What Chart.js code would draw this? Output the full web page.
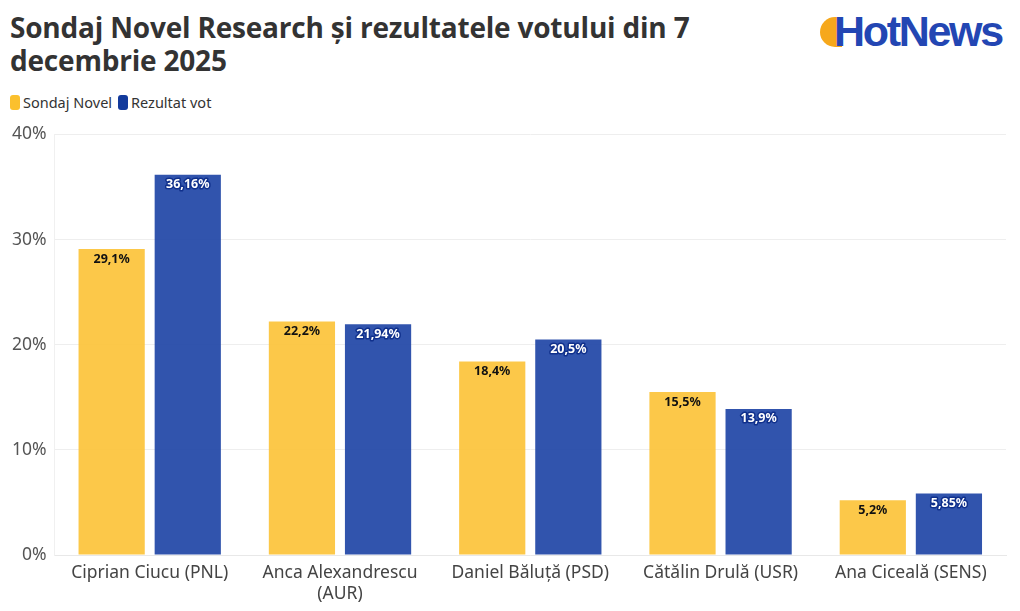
<!DOCTYPE html>
<html><head><meta charset="utf-8">
<script src="https://cdn.jsdelivr.net/npm/chart.js@4.4.1/dist/chart.umd.min.js"></script>
<style>
html,body{margin:0;padding:0;background:#fff;width:1020px;height:611px;overflow:hidden;font-family:"Noto Sans",sans-serif;}
#title{position:absolute;left:10px;top:11px;width:760px;font-family:"Open Sans",sans-serif;font-weight:700;font-size:28px;line-height:33px;color:#333;letter-spacing:-0.2px;}
#legend{position:absolute;left:10px;top:92px;font-size:14.5px;color:#333;display:flex;align-items:center;}
#legend span.sw{display:inline-block;width:10px;height:15px;border-radius:3px;margin-right:3px;}
#legend span.t{margin-right:6px;}
#logo{position:absolute;left:820px;top:6px;height:48px;}
#logo .sun{position:absolute;left:0;top:11px;width:22px;height:30px;border-radius:15px 0 0 15px;background:#f6a81c;}
#logo .txt{position:absolute;left:14px;top:0px;font-family:"Liberation Sans",Arial,sans-serif;font-weight:700;font-size:43px;color:#2346b3;letter-spacing:-2.3px;line-height:50px;}
#wrap{position:absolute;left:0;top:116px;width:1020px;height:495px;}
</style></head>
<body>
<div id="title">Sondaj Novel Research și rezultatele votului din 7 decembrie 2025</div>
<div id="legend"><span class="sw" style="background:#fbc02d"></span><span class="t">Sondaj Novel</span><span class="sw" style="background:#123a9c"></span><span class="t">Rezultat vot</span></div>
<div id="logo"><div class="sun"></div><div class="txt">HotNews</div></div>
<div id="wrap"><canvas id="c"></canvas></div>
<script>
const categories = [["Ciprian Ciucu (PNL)"], ["Anca Alexandrescu", "(AUR)"], ["Daniel Băluță (PSD)"], ["Cătălin Drulă (USR)"], ["Ana Ciceală (SENS)"]];
const sondajNovel = [29.1, 22.2, 18.4, 15.5, 5.2];
const rezultatVot = [36.16, 21.94, 20.5, 13.9, 5.85];
const yTicks = [0, 10, 20, 30, 40];

const fmt = v => String(v).replace('.', ',') + '%';

const labelPlugin = {
  id: 'barLabels',
  afterDatasetsDraw(chart) {
    const ctx = chart.ctx;
    chart.data.datasets.forEach((ds, di) => {
      const meta = chart.getDatasetMeta(di);
      meta.data.forEach((bar, i) => {
        const txt = fmt(ds.data[i]);
        ctx.save();
        ctx.font = 'bold 12.5px "Noto Sans", sans-serif';
        ctx.textAlign = 'center';
        ctx.textBaseline = 'middle';
        const y = bar.y + 10;
        if (di === 1) {
          ctx.lineWidth = 3;
          ctx.strokeStyle = '#10308c';
          ctx.lineJoin = 'round';
          ctx.strokeText(txt, bar.x, y);
          ctx.fillStyle = '#ffffff';
        } else {
          ctx.fillStyle = '#111';
        }
        ctx.fillText(txt, bar.x, y);
        ctx.restore();
      });
    });
  }
};

new Chart(document.getElementById('c'), {
  type: 'bar',
  data: {
    labels: categories,
    datasets: [
      { label: 'Sondaj Novel', data: sondajNovel, backgroundColor: 'rgba(252,194,53,0.9)', categoryPercentage: 0.8, barPercentage: 0.87 },
      { label: 'Rezultat vot', data: rezultatVot, backgroundColor: 'rgba(27,65,164,0.9)', categoryPercentage: 0.8, barPercentage: 0.87 }
    ]
  },
  options: {
    responsive: true,
    maintainAspectRatio: false,
    animation: false,
    layout: { padding: { left: 4, right: 14, top: 8, bottom: 6 } },
    plugins: { legend: { display: false }, tooltip: { enabled: false } },
    scales: {
      x: {
        grid: { display: false },
        border: { color: '#e8e8e8' },
        ticks: { color: '#444', font: { size: 17.5, family: '"Noto Sans", sans-serif' }, padding: 0, maxRotation: 0, autoSkip: false }
      },
      y: {
        min: 0, max: 40,
        afterBuildTicks(axis) { axis.ticks = yTicks.map(v => ({ value: v })); },
        grid: { color: '#eeeeee', drawTicks: false },
        border: { display: true, color: '#f0f0f0' },
        ticks: { color: '#555', font: { size: 17.5, family: '"Noto Sans", sans-serif' }, padding: 8, callback: v => v + '%' }
      }
    }
  },
  plugins: [labelPlugin]
});
</script>
</body></html>
